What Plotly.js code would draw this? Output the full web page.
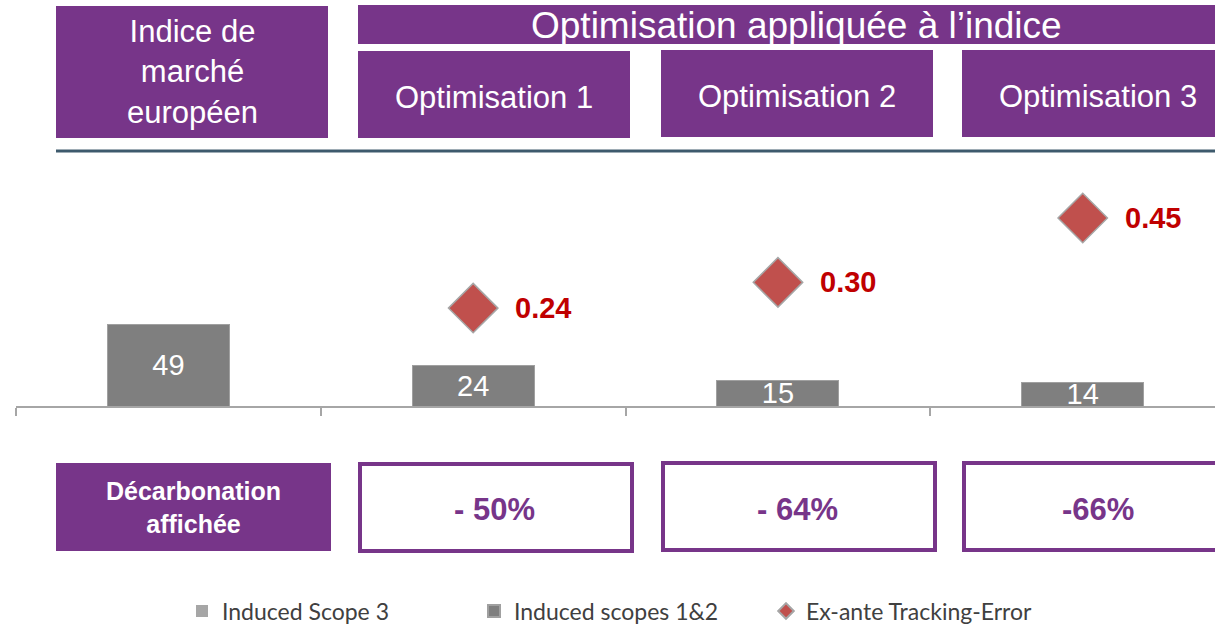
<!DOCTYPE html>
<html>
<head>
<meta charset="utf-8">
<script src="https://cdn.plot.ly/plotly-3.0.1.min.js"></script>
<style>
  html, body { margin: 0; padding: 0; background: #fff; }
  #chart { width: 1215px; height: 625px; }
</style>
</head>
<body>
<div id="chart"></div>
<script>
// ---------- data ----------
var categories = ['Indice de marché européen', 'Optimisation 1', 'Optimisation 2', 'Optimisation 3'];
var headerLabels = ['Indice de<br>marché<br>européen', 'Optimisation 1', 'Optimisation 2', 'Optimisation 3'];
var groupTitle = 'Optimisation appliquée à l’indice';
var scope3 = [0, 0, 0, 0];
var scopes12 = [49, 24, 15, 14];
var teCategories = ['Optimisation 1', 'Optimisation 2', 'Optimisation 3'];
var trackingError = [0.24, 0.30, 0.45];
var decarbTitle = 'Décarbonation<br>affichée';
var decarbLabels = ['- 50%', '- 64%', '-66%'];

var PURPLE = '#773589';
var FONT = 'Liberation Sans, Arial, sans-serif';

// pixel -> paper helpers (plot area: x 16..1215, y 155..406)
var L = 16, W = 1199, B = 406, H = 251;
function px(x) { return (x - L) / W; }
function py(y) { return (B - y) / H; }

function box(x0, y0, x1, y1, filled) {
    return {
        type: 'rect', xref: 'paper', yref: 'paper',
        x0: px(x0), x1: px(x1), y0: py(y1), y1: py(y0),
        fillcolor: filled ? PURPLE : '#ffffff',
        line: filled ? { width: 0 } : { color: PURPLE, width: 4 },
        layer: 'below'
    };
}
function label(x, y, text, size, color, bold) {
    return {
        xref: 'paper', yref: 'paper', x: px(x), y: py(y),
        xanchor: 'center', yanchor: 'middle', showarrow: false,
        text: text,
        font: { family: FONT, size: size, color: color, weight: bold ? 'bold' : 'normal' }
    };
}

var traceScope3 = {
    x: categories,
    y: scope3,
    name: 'Induced Scope 3',
    type: 'bar',
    width: 0.4,
    marker: { color: '#a6a6a6', line: { width: 0 } },
    hoverinfo: 'skip'
};
var traceScopes12 = {
    x: categories,
    y: scopes12,
    name: 'Induced scopes 1&2',
    type: 'bar',
    width: 0.4,
    marker: { color: '#7f7f7f', line: { color: '#a0a0a0', width: 1 } },
    text: scopes12.map(String),
    textposition: 'inside',
    insidetextanchor: 'middle',
    constraintext: 'none',
    textfont: { family: FONT, size: 29, color: '#ffffff' }
};
var traceTE = {
    x: teCategories,
    y: trackingError,
    name: 'Ex-ante Tracking-Error',
    type: 'scatter',
    mode: 'markers',
    yaxis: 'y2',
    marker: { symbol: 'diamond', size: 38, color: '#c0504d', line: { color: '#a6a6a6', width: 1.5 } }
};

var shapes = [
    box(56, 6, 328, 138, true),
    box(358, 5, 1225, 44, true),
    box(358, 51, 630, 138, true),
    box(661, 50, 933, 137, true),
    box(962, 50, 1225, 137, true),
    { type: 'line', xref: 'paper', yref: 'paper', x0: px(56), x1: px(1215), y0: py(151), y1: py(151),
      line: { color: '#3e5a6d', width: 3 } },
    box(56, 463, 331, 551, true),
    box(360, 464, 632, 551, false),
    box(663, 463, 935, 550, false),
    box(964, 463, 1225, 550, false)
];

var headerX = [192, 494, 797, 1098];
var headerY = [72, 97, 96, 96];
var annotations = [label(796, 25, groupTitle, 37, '#ffffff', false)];
headerLabels.forEach(function (t, i) {
    annotations.push(label(headerX[i], headerY[i], t, i === 0 ? 31 : 31, '#ffffff', false));
});
annotations.push(label(193, 507, decarbTitle, 25, '#ffffff', true));
decarbLabels.forEach(function (t, i) {
    annotations.push(label(headerX[i + 1], 509, t, 31, PURPLE, true));
});
// tracking-error value labels, placed from data on the y2 scale
teCategories.forEach(function (c, i) {
    annotations.push({
        x: c, y: trackingError[i], xref: 'x', yref: 'y2',
        xanchor: 'left', yanchor: 'middle', xshift: 40, showarrow: false,
        text: trackingError[i].toFixed(2),
        font: { family: FONT, size: 29, color: '#c00000', weight: 'bold' }
    });
});

var layout = {
    width: 1215,
    height: 625,
    margin: { l: L, r: 0, t: 155, b: 625 - B, autoexpand: false },
    paper_bgcolor: '#ffffff',
    plot_bgcolor: '#ffffff',
    barmode: 'stack',
    showlegend: true,
    xaxis: {
        type: 'category',
        range: [-0.5, 3.434],
        showline: true, linecolor: '#a6a6a6', linewidth: 2,
        ticks: 'outside', tickson: 'boundaries', ticklen: 8, tickcolor: '#a6a6a6', tickwidth: 2,
        showticklabels: false, showgrid: false, zeroline: false
    },
    yaxis: { range: [0, 150], visible: false, showgrid: false, zeroline: false },
    yaxis2: { overlaying: 'y', side: 'right', range: [0.0117, 0.597], visible: false, showgrid: false, zeroline: false },
    legend: {
        orientation: 'h',
        traceorder: 'normal',
        x: px(182), xanchor: 'left',
        y: py(611), yanchor: 'middle',
        entrywidth: 247, entrywidthmode: 'pixels',
        itemsizing: 'constant',
        font: { family: 'Lato, sans-serif', size: 23, color: '#404040' },
        bgcolor: 'rgba(0,0,0,0)'
    },
    shapes: shapes,
    annotations: annotations
};

Plotly.newPlot('chart', [traceScope3, traceScopes12, traceTE], layout, { displayModeBar: false, staticPlot: true });
</script>
</body>
</html>
